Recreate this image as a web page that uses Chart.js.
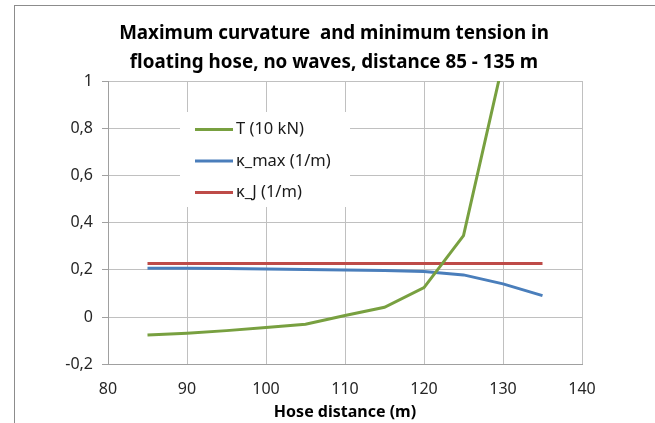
<!DOCTYPE html>
<html>
<head>
<meta charset="utf-8">
<script src="https://cdn.jsdelivr.net/npm/chart.js@4/dist/chart.umd.min.js"></script>
<style>
  html, body { margin:0; padding:0; background:#fff; overflow:hidden; }
  #wrap { position:relative; width:655px; height:423px; }
  #frame { position:absolute; left:14px; top:5px; width:700px; height:500px; border:1px solid #8c8c8c; box-sizing:border-box; }
  canvas { position:absolute; left:0; top:0; }
</style>
</head>
<body>
<div id="wrap">
  <div id="frame"></div>
  <canvas id="c" width="655" height="423"></canvas>
</div>
<script>
const distances = [85, 90, 95, 100, 105, 110, 115, 120, 125, 130];
const tension10kN = [-0.076, -0.068, -0.057, -0.044, -0.030, 0.007, 0.042, 0.125, 0.345, 1.08];
const distancesK = [85, 90, 95, 100, 105, 110, 115, 120, 125, 130, 135];
const kappaMax = [0.207, 0.207, 0.206, 0.204, 0.202, 0.200, 0.198, 0.193, 0.179, 0.141, 0.091];
const kappaJ = [0.227, 0.227, 0.227, 0.227, 0.227, 0.227, 0.227, 0.227, 0.227, 0.227, 0.227];
const seriesNames = ['T (10 kN)', 'κ_max (1/m)', 'κ_J (1/m)'];
const seriesColors = ['#78A040', '#4A7EBB', '#BE4B48'];
const yTickValues = [-0.2, 0, 0.2, 0.4, 0.6, 0.8, 1];
const yTickLabels = ['-0,2', '0', '0,2', '0,4', '0,6', '0,8', '1'];
const xTickLabels = ['80', '90', '100', '110', '120', '130', '140'];
const titleLines = ['Maximum curvature  and minimum tension in', 'floating hose, no waves, distance 85 - 135 m'];
const xTitle = 'Hose distance (m)';

const FONT = '"Noto Sans", "Open Sans", sans-serif';

function pts(xs, ys) { return xs.map((x, i) => ({x: x, y: ys[i]})); }

const titlePlugin = {
  id: 'fixedTitle',
  afterDraw(chart) {
    const ctx = chart.ctx;
    ctx.save();
    ctx.font = 'bold 18.8px ' + FONT;
    ctx.fillStyle = '#000000';
    ctx.textAlign = 'center';
    ctx.textBaseline = 'middle';
    ctx.fillText(titleLines[0], 334, 34);
    ctx.fillText(titleLines[1], 334, 63);
    ctx.restore();
  }
};

const legendPlugin = {
  id: 'boxLegend',
  afterDatasetsDraw(chart) {
    const ctx = chart.ctx;
    const a = chart.chartArea;
    const bx = a.left + 72, by = a.top + 31, bw = 170, bh = 95;
    ctx.save();
    ctx.fillStyle = '#ffffff';
    ctx.fillRect(bx, by, bw, bh);
    ctx.font = '16.5px ' + FONT;
    ctx.textBaseline = 'middle';
    ctx.textAlign = 'left';
    for (let i = 0; i < seriesNames.length; i++) {
      const y = by + 17.5 + i * 31.5;
      ctx.strokeStyle = seriesColors[i];
      ctx.lineWidth = 3;
      ctx.beginPath();
      ctx.moveTo(bx + 15, y);
      ctx.lineTo(bx + 53, y);
      ctx.stroke();
      ctx.fillStyle = '#1a1a1a';
      ctx.fillText(seriesNames[i], bx + 56, y);
    }
    ctx.restore();
  }
};

new Chart(document.getElementById('c'), {
  type: 'line',
  data: {
    datasets: [
      { label: seriesNames[0], data: pts(distances, tension10kN), borderColor: seriesColors[0], borderWidth: 3, pointRadius: 0, tension: 0, fill: false },
      { label: seriesNames[1], data: pts(distancesK, kappaMax), borderColor: seriesColors[1], borderWidth: 3, pointRadius: 0, tension: 0, fill: false },
      { label: seriesNames[2], data: pts(distancesK, kappaJ), borderColor: seriesColors[2], borderWidth: 3, pointRadius: 0, tension: 0, fill: false }
    ]
  },
  options: {
    responsive: false,
    animation: false,
    devicePixelRatio: 1,
    layout: { padding: { left: 14, right: 73, top: 81, bottom: 1 } },
    plugins: {
      legend: { display: false },
      tooltip: { enabled: false },
      title: { display: false }
    },
    scales: {
      x: {
        type: 'linear',
        min: 80, max: 140,
        afterBuildTicks(scale) { scale.ticks = xTickLabels.map(v => ({value: Number(v)})); },
        ticks: {
          callback: (v, i) => xTickLabels[i],
          color: '#262626',
          font: { family: FONT, size: 16 },
          padding: 15,
          maxRotation: 0
        },
        grid: { color: '#c0c0c0', lineWidth: 1, drawTicks: false },
        border: { color: '#a0a0a0', width: 1 },
        title: { display: true, text: xTitle, color: '#000000', font: { family: FONT, size: 16, weight: 'bold', lineHeight: 1.15 }, padding: { top: -10, bottom: 0 } }
      },
      y: {
        type: 'linear',
        min: -0.2, max: 1,
        afterBuildTicks(scale) { scale.ticks = yTickValues.map(v => ({value: v})); },
        afterFit(scale) { scale.width = 94; },
        ticks: {
          callback: (v, i) => yTickLabels[i],
          color: '#262626',
          font: { family: FONT, size: 16 },
          padding: 9
        },
        grid: { color: '#c0c0c0', lineWidth: 1, tickLength: 6, tickColor: '#a0a0a0' },
        border: { color: '#a0a0a0', width: 1 }
      }
    }
  },
  plugins: [legendPlugin, titlePlugin]
});
</script>
</body>
</html>
